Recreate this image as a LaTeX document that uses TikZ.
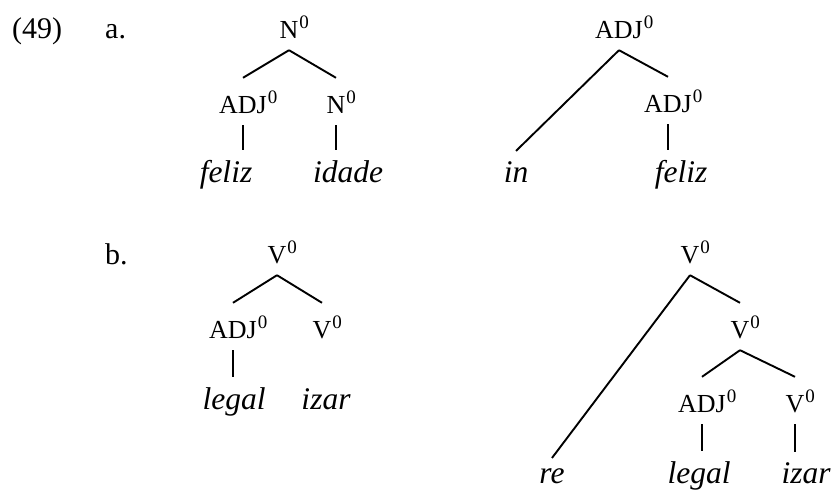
\documentclass[tikz,border=0pt]{standalone}
\usepackage{fontspec}
\setmainfont{Liberation Serif}
\usepackage{tikz}
\newcommand{\zcat}[1]{#1\rlap{\kern1pt\raisebox{10pt}{\fontsize{19}{19}\selectfont 0}}}

\begin{document}
\begin{tikzpicture}[x=1pt, y=-1pt,
    exnum/.style={font=\fontsize{30}{36}\selectfont, inner sep=0pt, anchor=base west},
    catnode/.style={font=\fontsize{26}{30}\selectfont, anchor=base, text height=23pt, text depth=0pt, inner xsep=0pt, inner ysep=12pt},
    wordnode/.style={font=\fontsize{31.5}{36}\selectfont\itshape, anchor=base, inner xsep=0pt, inner ysep=10pt},
    branch/.style={line width=1.9pt}]
    \useasboundingbox (0,0) rectangle (835,490);
    % Example numbers
    \node[exnum] (ex) at (12,38) {(49)};
    \node[exnum] (exa) at (105,38) {a.};
    \node[exnum] (exb) at (105,264) {b.};
    % (a) felizidade
    \node[catnode] (aN) at (289,38) {\zcat{N}};
    \node[catnode] (aAdj) at (243,113) {\zcat{ADJ}};
    \node[catnode] (aNb) at (336,113) {\zcat{N}};
    \node[wordnode] (aFeliz) at (226,182) {feliz};
    \node[wordnode] (aIdade) at (348,182) {idade};
    \draw[branch] (aN.south) -- (aAdj.north);
    \draw[branch] (aN.south) -- (aNb.north);
    \draw[branch] (aAdj.south) -- (aAdj.south |- aFeliz.north);
    \draw[branch] (aNb.south) -- (aNb.south |- aIdade.north);
    % (a) infeliz
    \node[catnode] (aAdjR) at (619,38) {\zcat{ADJ}};
    \node[catnode] (aAdjRb) at (668,112) {\zcat{ADJ}};
    \node[wordnode] (aIn) at (516,182) {in};
    \node[wordnode] (aFelizR) at (681,182) {feliz};
    \draw[branch] (aAdjR.south) -- (aIn.north);
    \draw[branch] (aAdjR.south) -- (aAdjRb.north);
    \draw[branch] (aAdjRb.south) -- (aAdjRb.south |- aFelizR.north);
    % (b) legalizar
    \node[catnode] (bV) at (277,263) {\zcat{V}};
    \node[catnode] (bAdj) at (233,338) {\zcat{ADJ}};
    \node[catnode] (bVb) at (322,338) {\zcat{V}};
    \node[wordnode] (bLegal) at (234,409) {legal};
    \node[wordnode] (bIzar) at (326,409) {izar};
    \draw[branch] (bV.south) -- (bAdj.north);
    \draw[branch] (bV.south) -- (bVb.north);
    \draw[branch] (bAdj.south) -- (bAdj.south |- bLegal.north);
    % (b) relegalizar
    \node[catnode] (bVR) at (690,263) {\zcat{V}};
    \node[catnode] (bVRm) at (740,338) {\zcat{V}};
    \node[catnode] (bAdjR) at (702,412) {\zcat{ADJ}};
    \node[catnode] (bVRb) at (795,412) {\zcat{V}};
    \node[wordnode] (bRe) at (552,483) {re};
    \node[wordnode] (bLegalR) at (699,483) {legal};
    \node[wordnode] (bIzarR) at (806,483) {izar};
    \draw[branch] (bVR.south) -- (bRe.north);
    \draw[branch] (bVR.south) -- (bVRm.north);
    \draw[branch] (bVRm.south) -- (bAdjR.north);
    \draw[branch] (bVRm.south) -- (bVRb.north);
    \draw[branch] (bAdjR.south) -- (bAdjR.south |- bLegalR.north);
    \draw[branch] (bVRb.south) -- (bVRb.south |- bIzarR.north);
\end{tikzpicture}
\end{document}
